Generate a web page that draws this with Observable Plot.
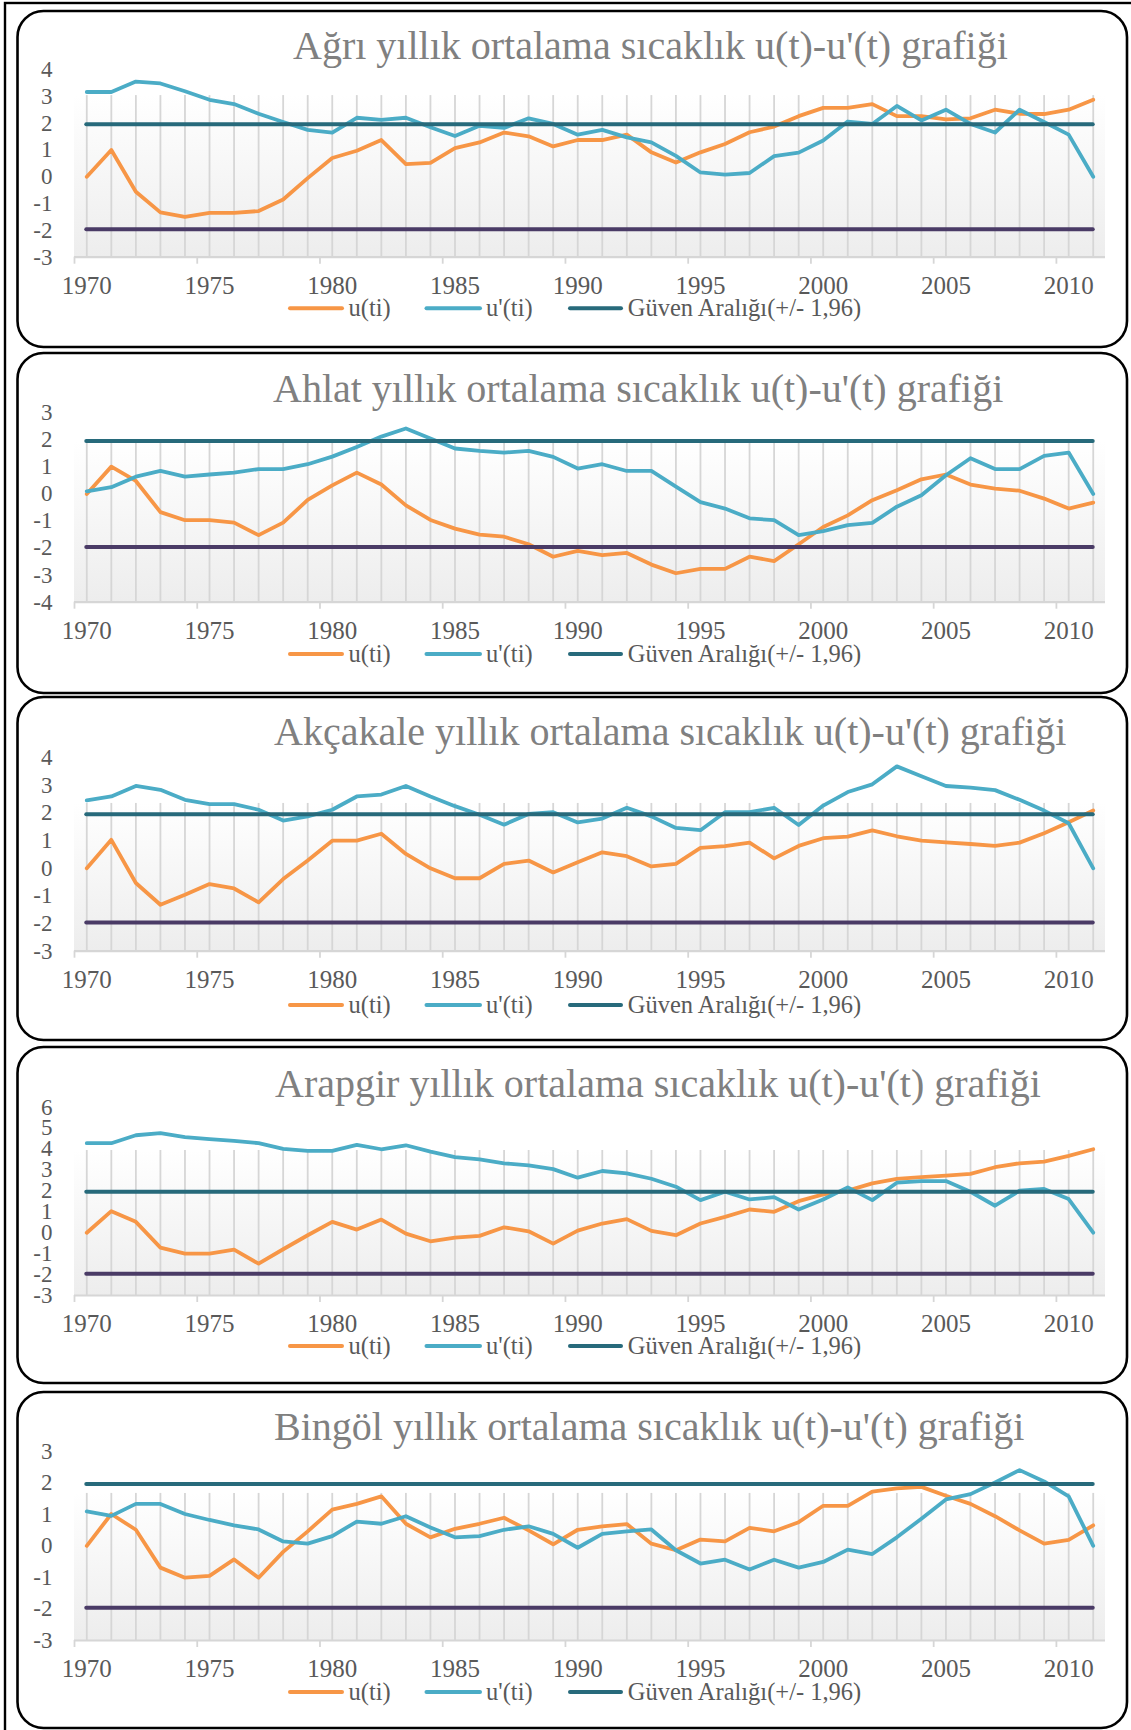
<!DOCTYPE html>
<html>
<head>
<meta charset="utf-8">
<script src="https://cdn.jsdelivr.net/npm/d3@7"></script>
<script src="https://cdn.jsdelivr.net/npm/@observablehq/plot@0.6"></script>
<style>
  html, body { margin: 0; padding: 0; background: #ffffff; }
  #root { position: relative; width: 1131px; height: 1730px; overflow: hidden; font-family: "Liberation Serif", serif; }
  #root > svg { position: absolute; left: 0; }
</style>
</head>
<body>
<div id="root"></div>
<script>
// ---------------- DATA ----------------
const years = [1970,1971,1972,1973,1974,1975,1976,1977,1978,1979,
               1980,1981,1982,1983,1984,1985,1986,1987,1988,1989,
               1990,1991,1992,1993,1994,1995,1996,1997,1998,1999,
               2000,2001,2002,2003,2004,2005,2006,2007,2008,2009,
               2010,2011];
const labelYears = [1970,1975,1980,1985,1990,1995,2000,2005,2010];
const boundaryTicks = [1969.5,1974.5,1979.5,1984.5,1989.5,1994.5,1999.5,2004.5,2009.5];
const seriesNames = ["u(ti)", "u'(ti)", "Güven Aralığı(+/- 1,96)"];
const ciUpper = 1.96;
const ciLower = -1.96;

const stationNames = ["Ağrı", "Ahlat", "Akçakale", "Arapgir", "Bingöl"];
const titleSuffix = "yıllık ortalama sıcaklık u(t)-u'(t) grafiği";

const agriU  = [0,1.00,-0.56,-1.33,-1.50,-1.35,-1.35,-1.28,-0.85,-0.05,
                0.70,0.97,1.37,0.47,0.52,1.07,1.28,1.65,1.51,1.13,
                1.37,1.37,1.57,0.91,0.53,0.91,1.22,1.66,1.87,2.26,
                2.57,2.57,2.71,2.26,2.26,2.14,2.18,2.50,2.35,2.34,
                2.50,2.87];
const agriUp = [3.16,3.16,3.55,3.48,3.19,2.87,2.71,2.35,2.04,1.75,
                1.65,2.20,2.12,2.20,1.85,1.52,1.90,1.82,2.18,1.97,
                1.57,1.75,1.47,1.28,0.78,0.16,0.08,0.14,0.77,0.90,
                1.35,2.06,1.97,2.64,2.10,2.50,1.97,1.65,2.50,2.04,
                1.57,0];
const agriTicks = [-3,-2,-1,0,1,2,3,4];

const ahlatU  = [0,1.01,0.48,-0.67,-0.97,-0.97,-1.06,-1.52,-1.06,-0.22,
                 0.32,0.79,0.35,-0.42,-0.96,-1.28,-1.50,-1.58,-1.86,-2.32,
                 -2.10,-2.26,-2.18,-2.61,-2.93,-2.77,-2.77,-2.32,-2.48,-1.86,
                 -1.22,-0.79,-0.23,0.14,0.54,0.72,0.35,0.20,0.12,-0.17,
                 -0.54,-0.32];
const ahlatUp = [0.10,0.25,0.64,0.85,0.64,0.72,0.79,0.92,0.92,1.10,
                 1.38,1.74,2.12,2.42,2.05,1.68,1.59,1.53,1.59,1.37,
                 0.94,1.10,0.85,0.85,0.27,-0.30,-0.54,-0.90,-0.97,-1.52,
                 -1.37,-1.15,-1.07,-0.47,-0.05,0.69,1.32,0.92,0.92,1.41,
                 1.53,0];
const ahlatTicks = [-4,-3,-2,-1,0,1,2,3];

const akcakaleU  = [0,1.03,-0.53,-1.32,-0.96,-0.57,-0.73,-1.23,-0.39,0.28,
                    1.00,1.00,1.25,0.52,0.00,-0.36,-0.36,0.16,0.28,-0.15,
                    0.22,0.58,0.44,0.07,0.16,0.74,0.80,0.93,0.36,0.81,
                    1.09,1.15,1.37,1.16,1.00,0.94,0.88,0.81,0.93,1.27,
                    1.67,2.09];
const akcakaleUp = [2.46,2.60,2.98,2.84,2.48,2.32,2.32,2.12,1.73,1.88,
                    2.12,2.60,2.67,2.98,2.60,2.25,1.94,1.58,1.97,2.03,
                    1.66,1.80,2.19,1.88,1.46,1.38,2.03,2.03,2.19,1.57,
                    2.27,2.76,3.04,3.69,3.33,2.98,2.92,2.83,2.48,2.09,
                    1.63,0];
const akcakaleTicks = [-3,-2,-1,0,1,2,3,4];

const arapgirU  = [0,1.03,0.52,-0.71,-1.00,-1.00,-0.81,-1.48,-0.79,-0.12,
                   0.52,0.15,0.63,-0.04,-0.41,-0.23,-0.15,0.26,0.07,-0.52,
                   0.10,0.44,0.65,0.09,-0.12,0.44,0.76,1.11,1.00,1.51,
                   1.83,2.01,2.36,2.57,2.66,2.73,2.81,3.13,3.32,3.40,
                   3.67,3.99];
const arapgirUp = [4.28,4.28,4.66,4.76,4.57,4.47,4.39,4.28,4.01,3.91,
                   3.91,4.20,3.99,4.18,3.88,3.61,3.51,3.32,3.22,3.04,
                   2.63,2.95,2.84,2.58,2.20,1.56,1.96,1.59,1.70,1.11,
                   1.59,2.17,1.56,2.39,2.47,2.47,1.96,1.29,2.01,2.09,
                   1.61,0];
const arapgirTicks = [-3,-2,-1,0,1,2,3,4,5,6];

const bingolU  = [0,1.01,0.51,-0.69,-1.01,-0.95,-0.43,-1.01,-0.19,0.46,
                  1.15,1.33,1.57,0.70,0.27,0.54,0.70,0.89,0.49,0.05,
                  0.51,0.62,0.69,0.07,-0.14,0.20,0.14,0.57,0.46,0.75,
                  1.27,1.27,1.72,1.82,1.87,1.59,1.33,0.94,0.49,0.07,
                  0.19,0.65];
const bingolUp = [1.09,0.95,1.33,1.33,1.01,0.82,0.65,0.52,0.14,0.07,
                  0.31,0.77,0.70,0.94,0.58,0.27,0.31,0.51,0.62,0.38,
                  -0.06,0.38,0.46,0.52,-0.14,-0.56,-0.44,-0.75,-0.44,-0.69,
                  -0.51,-0.12,-0.26,0.27,0.86,1.47,1.64,2.01,2.40,2.04,
                  1.57,0];
const bingolTicks = [-3,-2,-1,0,1,2,3];

const stationU = [agriU, ahlatU, akcakaleU, arapgirU, bingolU];
const stationUp = [agriUp, ahlatUp, akcakaleUp, arapgirUp, bingolUp];
const stationTicks = [agriTicks, ahlatTicks, akcakaleTicks, arapgirTicks, bingolTicks];

// ---------------- STYLE / LAYOUT ----------------
const colors = { u: "#f79646", up: "#4bacc6", ciUp: "#276a7b", ciLo: "#4a3b66",
                 grid: "#d6d6d6", label: "#595959", title: "#808080" };
const layout = [
  { top: 11,   h: 336, plotTop: 58,   plotBottom: 245.7, gridFrac: 0.139, titleX: 293, titleBase: 48.3, legendY: 297.3 },
  { top: 353,  h: 340, plotTop: 59.3, plotBottom: 248.7, gridFrac: 0.155, titleX: 273, titleBase: 49.3, legendY: 301 },
  { top: 697,  h: 343, plotTop: 60.3, plotBottom: 253.7, gridFrac: 0.236, titleX: 274, titleBase: 48,   legendY: 308 },
  { top: 1047, h: 336, plotTop: 59.7, plotBottom: 248,   gridFrac: 0.23,  titleX: 275, titleBase: 50.3, legendY: 299 },
  { top: 1392, h: 336, plotTop: 58.7, plotBottom: 248,   gridFrac: 0.223, titleX: 274, titleBase: 48,   legendY: 300 }
];
const legendItems = [
  { name: seriesNames[0], color: colors.u,    x1: 290,   x2: 342, tx: 348.5 },
  { name: seriesNames[1], color: colors.up,   x1: 426.5, x2: 480, tx: 486 },
  { name: seriesNames[2], color: colors.ciUp, x1: 570,   x2: 621, tx: 627.7 }
];
const SVG_H = 300;

const root = document.getElementById("root");

// background svg: frames, titles, legends
const bg = d3.create("svg").attr("width", 1131).attr("height", 1730).style("top", "0px");
bg.append("rect").attr("x", 5).attr("y", 3).attr("width", 1140).attr("height", 1740)
  .attr("fill", "#ffffff").attr("stroke", "#000").attr("stroke-width", 2.4);
layout.forEach((L, i) => {
  bg.append("rect").attr("x", 17.5).attr("y", L.top).attr("width", 1109.5).attr("height", L.h)
    .attr("rx", 26).attr("ry", 26).attr("fill", "#ffffff").attr("stroke", "#000").attr("stroke-width", 2.6);
  bg.append("text").attr("x", L.titleX).attr("y", L.top + L.titleBase)
    .attr("font-family", "'Liberation Serif', serif").attr("font-size", 40).attr("fill", colors.title)
    .text(stationNames[i] + " " + titleSuffix);
  legendItems.forEach(it => {
    bg.append("line").attr("x1", it.x1).attr("x2", it.x2)
      .attr("y1", L.top + L.legendY).attr("y2", L.top + L.legendY)
      .attr("stroke", it.color).attr("stroke-width", 4).attr("stroke-linecap", "round");
    bg.append("text").attr("x", it.tx).attr("y", L.top + L.legendY + 8)
      .attr("font-family", "'Liberation Serif', serif").attr("font-size", 24.5).attr("fill", colors.label)
      .text(it.name);
  });
});
root.appendChild(bg.node());

// charts
layout.forEach((L, i) => {
  const ticks = stationTicks[i];
  const yMin = ticks[0], yMax = ticks[ticks.length - 1];
  const gridTop = yMax - L.gridFrac * (yMax - yMin);
  const rows = years.map((yr, k) => ({ year: yr, u: stationU[i][k], up: stationUp[i][k] }));
  const gid = "plotgrad" + i;

  const bgMark = (index, scales) => {
    const g = d3.create("svg:g");
    const lg = g.append("defs").append("linearGradient").attr("id", gid)
      .attr("x1", 0).attr("x2", 0).attr("y1", 0).attr("y2", 1);
    lg.append("stop").attr("offset", "0%").attr("stop-color", "#ffffff");
    lg.append("stop").attr("offset", "100%").attr("stop-color", "#ededed");
    const x0 = scales.x(years[0] - 0.5), x1 = scales.x(years[years.length - 1] + 0.5);
    const yt = scales.y(gridTop), yb = scales.y(yMin);
    g.append("rect").attr("x", x0).attr("y", yt).attr("width", x1 - x0).attr("height", yb - yt)
      .attr("fill", `url(#${gid})`);
    return g.node();
  };

  const chart = Plot.plot({
    width: 1131,
    height: SVG_H,
    marginLeft: 74,
    marginRight: 26,
    marginTop: L.plotTop,
    marginBottom: SVG_H - L.plotBottom,
    x: { domain: [years[0] - 0.5, years[years.length - 1] + 0.5], label: null },
    y: { domain: [yMin, yMax], label: null },
    style: { background: "transparent", fontFamily: "'Liberation Serif', serif", color: colors.label, overflow: "visible" },
    marks: [
      bgMark,
      Plot.ruleX(years, { x: d => d, y1: gridTop, y2: yMin, stroke: colors.grid, strokeWidth: 1.8 }),
      Plot.ruleY([yMin], { stroke: colors.grid, strokeWidth: 2.2 }),
      Plot.axisX({ ticks: boundaryTicks, tickSize: 7, tickFormat: () => "", label: null, stroke: colors.grid, strokeWidth: 1.8 }),
      Plot.axisX({ ticks: labelYears, tickSize: 0, tickPadding: 19, tickFormat: d => String(d), label: null, fontSize: 25, fill: colors.label }),
      Plot.axisY({ ticks: ticks, tickSize: 0, tickPadding: 22, tickFormat: d => String(d), label: null, fontSize: 23, fill: colors.label }),
      Plot.line(rows, { x: "year", y: "u", stroke: colors.u, strokeWidth: 3.8, strokeLinejoin: "round", strokeLinecap: "round" }),
      Plot.line(rows, { x: "year", y: "up", stroke: colors.up, strokeWidth: 3.8, strokeLinejoin: "round", strokeLinecap: "round" }),
      Plot.ruleY([ciUpper], { x1: years[0], x2: years[years.length - 1], stroke: colors.ciUp, strokeWidth: 4, strokeLinecap: "round" }),
      Plot.ruleY([ciLower], { x1: years[0], x2: years[years.length - 1], stroke: colors.ciLo, strokeWidth: 4, strokeLinecap: "round" })
    ]
  });
  chart.style.position = "absolute";
  chart.style.left = "0px";
  chart.style.top = L.top + "px";
  root.appendChild(chart);
});
</script>
</body>
</html>
